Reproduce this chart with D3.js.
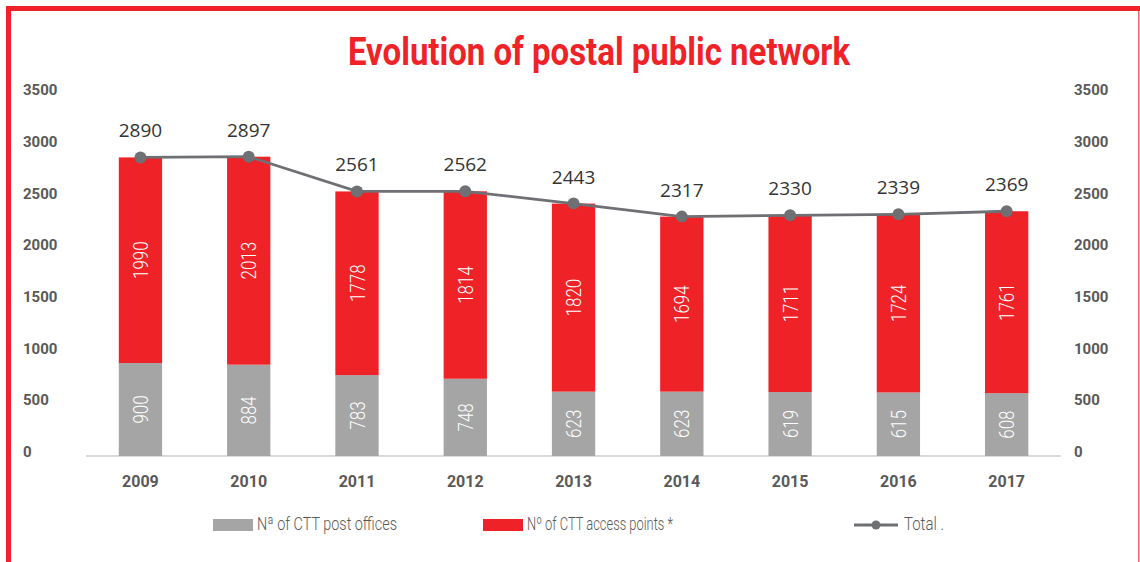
<!DOCTYPE html>
<html>
<head>
<meta charset="utf-8">
<script src="https://cdn.jsdelivr.net/npm/d3@7"></script>
<style>
  html, body { margin: 0; padding: 0; background: #fff; }
  svg { display: block; }
</style>
</head>
<body>
<svg id="chart" width="1140" height="562"></svg>
<script>
// Postal network figures per year
const years = ["2009", "2010", "2011", "2012", "2013", "2014", "2015", "2016", "2017"];
const postOffices = [900, 884, 783, 748, 623, 623, 619, 615, 608];
const accessPoints = [1990, 2013, 1778, 1814, 1820, 1694, 1711, 1724, 1761];
const totals = [2890, 2897, 2561, 2562, 2443, 2317, 2330, 2339, 2369];
const yTicks = [0, 500, 1000, 1500, 2000, 2500, 3000, 3500];
const seriesNames = ["Nª of CTT post offices", "Nº of CTT access points *", "Total ."];

const RED = "#ee2227";
const GREY = "#a5a5a5";
const LINE = "#6f7073";
const AXIS_TXT = "#595959";

const svg = d3.select("#chart");

// Frame: thick red top and left edges, thin right edge
svg.append("rect").attr("x", 6).attr("y", 6).attr("width", 1134).attr("height", 5).attr("fill", RED);
svg.append("rect").attr("x", 6).attr("y", 6).attr("width", 5).attr("height", 556).attr("fill", RED);
svg.append("rect").attr("x", 1138).attr("y", 11).attr("width", 1.5).attr("height", 551).attr("fill", "#ea6b6e");

// Title
svg.append("text")
  .attr("x", 348).attr("y", 65)
  .attr("textLength", 502).attr("lengthAdjust", "spacingAndGlyphs")
  .attr("font-family", "Roboto, 'Liberation Sans', sans-serif")
  .attr("font-weight", 700).attr("font-size", 38)
  .attr("fill", RED)
  .text("Evolution of postal public network");

// Scales
const x = d3.scaleBand().domain(years).range([86.3, 1060.8]).paddingInner(0.6).paddingOuter(0.3);
const y = d3.scaleLinear().domain([0, 3500]).range([456, 94.4]);

// Baseline
svg.append("line")
  .attr("x1", x.range()[0]).attr("x2", x.range()[1])
  .attr("y1", y(0)).attr("y2", y(0))
  .attr("stroke", "#d9d9d9").attr("stroke-width", 2);

// Value axes on both sides (labels only)
function styleAxis(g) {
  g.select(".domain").remove();
  g.selectAll(".tick line").remove();
  g.selectAll(".tick text")
    .attr("y", -5).attr("dy", "0.36em")
    .attr("font-family", "Roboto, 'Liberation Sans', sans-serif")
    .attr("font-weight", 700).attr("font-size", 15)
    .attr("fill", AXIS_TXT);
}
const yAxis = d3.axisRight(y).tickValues(yTicks).tickSize(0).tickPadding(0).tickFormat(d3.format("d"));
svg.append("g").attr("transform", "translate(23,0)").call(yAxis).call(styleAxis);
svg.append("g").attr("transform", "translate(1074,0)").call(yAxis).call(styleAxis);

// Category axis
svg.append("g")
  .attr("transform", `translate(0,${y(0)})`)
  .call(d3.axisBottom(x).tickSize(0).tickPadding(20))
  .call(g => {
    g.select(".domain").remove();
    g.selectAll(".tick text")
      .attr("font-family", "Roboto, 'Liberation Sans', sans-serif")
      .attr("font-weight", 700).attr("font-size", 16)
      .attr("fill", AXIS_TXT);
  });

// Stacked bars
const rows = years.map((yr, i) => ({ year: yr, offices: postOffices[i], access: accessPoints[i] }));
const stack = d3.stack().keys(["offices", "access"])(rows);
const colors = { offices: GREY, access: RED };

const layers = svg.append("g").selectAll("g").data(stack).join("g")
  .attr("fill", d => colors[d.key]);

layers.selectAll("rect").data(d => d).join("rect")
  .attr("x", d => x(d.data.year))
  .attr("width", x.bandwidth())
  .attr("y", d => y(d[1]))
  .attr("height", d => y(d[0]) - y(d[1]));

// Rotated segment values
layers.selectAll("text").data(d => d.map(s => ({ s, key: d.key }))).join("text")
  .attr("transform", d => {
    const cx = x(d.s.data.year) + x.bandwidth() / 2;
    const cy = (y(d.s[0]) + y(d.s[1])) / 2;
    return `translate(${cx},${cy}) rotate(-90)`;
  })
  .attr("text-anchor", "middle").attr("dy", "0.36em")
  .attr("font-family", "Roboto, 'Liberation Sans', sans-serif")
  .attr("font-weight", 300).attr("font-size", 21)
  .attr("fill", "#fff")
  .each(function (d) {
    const v = String(d.s.data[d.key]);
    d3.select(this).text(v)
      .attr("textLength", v.length * 9.4)
      .attr("lengthAdjust", "spacingAndGlyphs");
  });

// Total line with markers and labels
const cx = (d, i) => x(years[i]) + x.bandwidth() / 2;
svg.append("path")
  .datum(totals)
  .attr("d", d3.line().x(cx).y(d => y(d)))
  .attr("fill", "none").attr("stroke", LINE).attr("stroke-width", 2.8);

svg.append("g").selectAll("circle").data(totals).join("circle")
  .attr("cx", cx).attr("cy", d => y(d)).attr("r", 6).attr("fill", LINE);

svg.append("g").selectAll("text").data(totals).join("text")
  .attr("x", cx).attr("y", d => y(d) - 20)
  .attr("text-anchor", "middle")
  .attr("font-family", "'Open Sans', sans-serif")
  .attr("font-size", 19)
  .attr("fill", "#333")
  .text(d => d);

// Legend
const legend = svg.append("g");
legend.append("rect").attr("x", 213).attr("y", 519).attr("width", 40).attr("height", 12).attr("fill", GREY);
legend.append("rect").attr("x", 483).attr("y", 519).attr("width", 40).attr("height", 12).attr("fill", RED);
legend.append("line").attr("x1", 854).attr("x2", 898).attr("y1", 525).attr("y2", 525)
  .attr("stroke", LINE).attr("stroke-width", 2.8);
legend.append("circle").attr("cx", 876).attr("cy", 525).attr("r", 4.5).attr("fill", LINE);

const legendText = [
  { x: 257, w: 140 },
  { x: 527, w: 146 },
  { x: 904, w: 40 }
];
legend.selectAll("text.lbl").data(seriesNames).join("text")
  .attr("class", "lbl")
  .attr("x", (d, i) => legendText[i].x).attr("y", 530)
  .attr("textLength", (d, i) => legendText[i].w).attr("lengthAdjust", "spacingAndGlyphs")
  .attr("font-family", "Roboto, 'Liberation Sans', sans-serif")
  .attr("font-weight", 300).attr("font-size", 18)
  .attr("fill", AXIS_TXT)
  .text(d => d);
</script>
</body>
</html>
